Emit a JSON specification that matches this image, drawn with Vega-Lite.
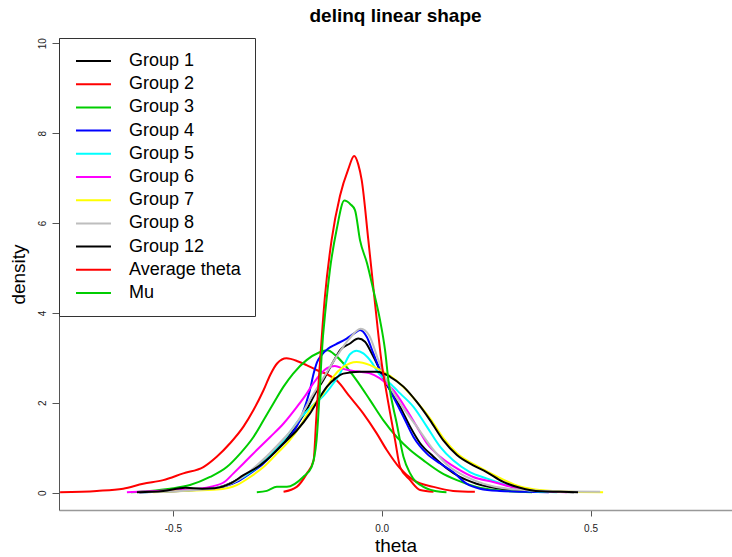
{
  "$schema": "https://vega.github.io/schema/vega-lite/v6.json",
  "width": 673,
  "height": 472,
  "autosize": {"type": "none"},
  "padding": {"left": 59, "top": 38, "right": 0, "bottom": 47},
  "background": "white",
  "title": {"text": "delinq linear shape", "fontSize": 19, "fontWeight": "bold", "font": "Liberation Sans", "color": "black", "offset": 12, "anchor": "middle"},
  "config": {"view": {"stroke": null}},
  "datasets": {
    "curves": [
      {"s": "Group 1", "theta": -0.58, "density": 0.01},
      {"s": "Group 1", "theta": -0.507, "density": 0.03},
      {"s": "Group 1", "theta": -0.443, "density": 0.07},
      {"s": "Group 1", "theta": -0.387, "density": 0.13},
      {"s": "Group 1", "theta": -0.347, "density": 0.28},
      {"s": "Group 1", "theta": -0.315, "density": 0.46},
      {"s": "Group 1", "theta": -0.283, "density": 0.69},
      {"s": "Group 1", "theta": -0.243, "density": 1.02},
      {"s": "Group 1", "theta": -0.212, "density": 1.39},
      {"s": "Group 1", "theta": -0.18, "density": 1.84},
      {"s": "Group 1", "theta": -0.155, "density": 2.28},
      {"s": "Group 1", "theta": -0.14, "density": 2.5},
      {"s": "Group 1", "theta": -0.124, "density": 2.78},
      {"s": "Group 1", "theta": -0.112, "density": 2.98},
      {"s": "Group 1", "theta": -0.1, "density": 3.17},
      {"s": "Group 1", "theta": -0.076, "density": 3.32},
      {"s": "Group 1", "theta": -0.056, "density": 3.43},
      {"s": "Group 1", "theta": -0.04, "density": 3.36},
      {"s": "Group 1", "theta": -0.024, "density": 3.1},
      {"s": "Group 1", "theta": -0.008, "density": 2.8},
      {"s": "Group 1", "theta": 0.004, "density": 2.54},
      {"s": "Group 1", "theta": 0.02, "density": 2.28},
      {"s": "Group 1", "theta": 0.044, "density": 1.91},
      {"s": "Group 1", "theta": 0.068, "density": 1.47},
      {"s": "Group 1", "theta": 0.092, "density": 1.1},
      {"s": "Group 1", "theta": 0.124, "density": 0.8},
      {"s": "Group 1", "theta": 0.156, "density": 0.54},
      {"s": "Group 1", "theta": 0.187, "density": 0.35},
      {"s": "Group 1", "theta": 0.227, "density": 0.2},
      {"s": "Group 1", "theta": 0.283, "density": 0.09},
      {"s": "Group 1", "theta": 0.347, "density": 0.04},
      {"s": "Group 1", "theta": 0.411, "density": 0.02},
      {"s": "Group 1", "theta": 0.46, "density": 0.01},

      {"s": "Group 2", "theta": -0.77, "density": 0.01},
      {"s": "Group 2", "theta": -0.682, "density": 0.04},
      {"s": "Group 2", "theta": -0.619, "density": 0.09},
      {"s": "Group 2", "theta": -0.571, "density": 0.2},
      {"s": "Group 2", "theta": -0.523, "density": 0.28},
      {"s": "Group 2", "theta": -0.475, "density": 0.43},
      {"s": "Group 2", "theta": -0.427, "density": 0.57},
      {"s": "Group 2", "theta": -0.395, "density": 0.8},
      {"s": "Group 2", "theta": -0.363, "density": 1.1},
      {"s": "Group 2", "theta": -0.331, "density": 1.47},
      {"s": "Group 2", "theta": -0.307, "density": 1.84},
      {"s": "Group 2", "theta": -0.283, "density": 2.28},
      {"s": "Group 2", "theta": -0.267, "density": 2.62},
      {"s": "Group 2", "theta": -0.25, "density": 2.88},
      {"s": "Group 2", "theta": -0.228, "density": 2.99},
      {"s": "Group 2", "theta": -0.2, "density": 2.92},
      {"s": "Group 2", "theta": -0.18, "density": 2.84},
      {"s": "Group 2", "theta": -0.156, "density": 2.73},
      {"s": "Group 2", "theta": -0.132, "density": 2.64},
      {"s": "Group 2", "theta": -0.108, "density": 2.5},
      {"s": "Group 2", "theta": -0.076, "density": 2.13},
      {"s": "Group 2", "theta": -0.044, "density": 1.76},
      {"s": "Group 2", "theta": -0.012, "density": 1.32},
      {"s": "Group 2", "theta": 0.012, "density": 0.95},
      {"s": "Group 2", "theta": 0.044, "density": 0.54},
      {"s": "Group 2", "theta": 0.076, "density": 0.28},
      {"s": "Group 2", "theta": 0.124, "density": 0.13},
      {"s": "Group 2", "theta": 0.171, "density": 0.04},
      {"s": "Group 2", "theta": 0.223, "density": 0.02},

      {"s": "Group 3", "theta": -0.6, "density": 0.01},
      {"s": "Group 3", "theta": -0.555, "density": 0.04},
      {"s": "Group 3", "theta": -0.507, "density": 0.09},
      {"s": "Group 3", "theta": -0.459, "density": 0.17},
      {"s": "Group 3", "theta": -0.411, "density": 0.35},
      {"s": "Group 3", "theta": -0.371, "density": 0.57},
      {"s": "Group 3", "theta": -0.339, "density": 0.87},
      {"s": "Group 3", "theta": -0.307, "density": 1.24},
      {"s": "Group 3", "theta": -0.283, "density": 1.61},
      {"s": "Group 3", "theta": -0.259, "density": 1.99},
      {"s": "Group 3", "theta": -0.235, "density": 2.36},
      {"s": "Group 3", "theta": -0.212, "density": 2.65},
      {"s": "Group 3", "theta": -0.18, "density": 2.95},
      {"s": "Group 3", "theta": -0.15, "density": 3.12},
      {"s": "Group 3", "theta": -0.13, "density": 3.17},
      {"s": "Group 3", "theta": -0.11, "density": 3.05},
      {"s": "Group 3", "theta": -0.092, "density": 2.88},
      {"s": "Group 3", "theta": -0.06, "density": 2.5},
      {"s": "Group 3", "theta": -0.028, "density": 2.06},
      {"s": "Group 3", "theta": 0.004, "density": 1.61},
      {"s": "Group 3", "theta": 0.036, "density": 1.24},
      {"s": "Group 3", "theta": 0.068, "density": 0.95},
      {"s": "Group 3", "theta": 0.1, "density": 0.72},
      {"s": "Group 3", "theta": 0.14, "density": 0.46},
      {"s": "Group 3", "theta": 0.18, "density": 0.28},
      {"s": "Group 3", "theta": 0.227, "density": 0.13},
      {"s": "Group 3", "theta": 0.283, "density": 0.05},
      {"s": "Group 3", "theta": 0.331, "density": 0.02},
      {"s": "Group 3", "theta": 0.36, "density": 0.01},

      {"s": "Group 4", "theta": -0.58, "density": 0.01},
      {"s": "Group 4", "theta": -0.483, "density": 0.04},
      {"s": "Group 4", "theta": -0.427, "density": 0.07},
      {"s": "Group 4", "theta": -0.379, "density": 0.13},
      {"s": "Group 4", "theta": -0.347, "density": 0.24},
      {"s": "Group 4", "theta": -0.315, "density": 0.43},
      {"s": "Group 4", "theta": -0.283, "density": 0.65},
      {"s": "Group 4", "theta": -0.251, "density": 0.95},
      {"s": "Group 4", "theta": -0.22, "density": 1.24},
      {"s": "Group 4", "theta": -0.196, "density": 1.61},
      {"s": "Group 4", "theta": -0.184, "density": 1.91},
      {"s": "Group 4", "theta": -0.172, "density": 2.28},
      {"s": "Group 4", "theta": -0.163, "density": 2.65},
      {"s": "Group 4", "theta": -0.155, "density": 2.9},
      {"s": "Group 4", "theta": -0.145, "density": 3.05},
      {"s": "Group 4", "theta": -0.128, "density": 3.21},
      {"s": "Group 4", "theta": -0.11, "density": 3.3},
      {"s": "Group 4", "theta": -0.084, "density": 3.43},
      {"s": "Group 4", "theta": -0.065, "density": 3.55},
      {"s": "Group 4", "theta": -0.052, "density": 3.62},
      {"s": "Group 4", "theta": -0.036, "density": 3.47},
      {"s": "Group 4", "theta": -0.02, "density": 3.1},
      {"s": "Group 4", "theta": -0.004, "density": 2.73},
      {"s": "Group 4", "theta": 0.008, "density": 2.5},
      {"s": "Group 4", "theta": 0.028, "density": 2.13},
      {"s": "Group 4", "theta": 0.052, "density": 1.69},
      {"s": "Group 4", "theta": 0.076, "density": 1.24},
      {"s": "Group 4", "theta": 0.108, "density": 0.87},
      {"s": "Group 4", "theta": 0.14, "density": 0.65},
      {"s": "Group 4", "theta": 0.171, "density": 0.46},
      {"s": "Group 4", "theta": 0.203, "density": 0.2},
      {"s": "Group 4", "theta": 0.235, "density": 0.09},
      {"s": "Group 4", "theta": 0.283, "density": 0.04},
      {"s": "Group 4", "theta": 0.347, "density": 0.02},
      {"s": "Group 4", "theta": 0.4, "density": 0.01},

      {"s": "Group 5", "theta": -0.57, "density": 0.01},
      {"s": "Group 5", "theta": -0.5, "density": 0.04},
      {"s": "Group 5", "theta": -0.4, "density": 0.1},
      {"s": "Group 5", "theta": -0.35, "density": 0.25},
      {"s": "Group 5", "theta": -0.3, "density": 0.55},
      {"s": "Group 5", "theta": -0.25, "density": 1.0},
      {"s": "Group 5", "theta": -0.22, "density": 1.35},
      {"s": "Group 5", "theta": -0.196, "density": 1.65},
      {"s": "Group 5", "theta": -0.164, "density": 1.95},
      {"s": "Group 5", "theta": -0.14, "density": 2.15},
      {"s": "Group 5", "theta": -0.116, "density": 2.43},
      {"s": "Group 5", "theta": -0.1, "density": 2.65},
      {"s": "Group 5", "theta": -0.088, "density": 2.88},
      {"s": "Group 5", "theta": -0.076, "density": 3.08},
      {"s": "Group 5", "theta": -0.06, "density": 3.16},
      {"s": "Group 5", "theta": -0.044, "density": 3.1},
      {"s": "Group 5", "theta": -0.028, "density": 2.95},
      {"s": "Group 5", "theta": -0.004, "density": 2.62},
      {"s": "Group 5", "theta": 0.02, "density": 2.43},
      {"s": "Group 5", "theta": 0.044, "density": 2.21},
      {"s": "Group 5", "theta": 0.076, "density": 1.91},
      {"s": "Group 5", "theta": 0.108, "density": 1.47},
      {"s": "Group 5", "theta": 0.14, "density": 1.02},
      {"s": "Group 5", "theta": 0.171, "density": 0.72},
      {"s": "Group 5", "theta": 0.211, "density": 0.46},
      {"s": "Group 5", "theta": 0.251, "density": 0.32},
      {"s": "Group 5", "theta": 0.299, "density": 0.17},
      {"s": "Group 5", "theta": 0.363, "density": 0.04},
      {"s": "Group 5", "theta": 0.42, "density": 0.01},

      {"s": "Group 6", "theta": -0.61, "density": 0.01},
      {"s": "Group 6", "theta": -0.539, "density": 0.04},
      {"s": "Group 6", "theta": -0.467, "density": 0.07},
      {"s": "Group 6", "theta": -0.411, "density": 0.13},
      {"s": "Group 6", "theta": -0.375, "density": 0.25},
      {"s": "Group 6", "theta": -0.355, "density": 0.43},
      {"s": "Group 6", "theta": -0.331, "density": 0.65},
      {"s": "Group 6", "theta": -0.299, "density": 0.95},
      {"s": "Group 6", "theta": -0.267, "density": 1.24},
      {"s": "Group 6", "theta": -0.235, "density": 1.54},
      {"s": "Group 6", "theta": -0.203, "density": 1.91},
      {"s": "Group 6", "theta": -0.18, "density": 2.2},
      {"s": "Group 6", "theta": -0.164, "density": 2.43},
      {"s": "Group 6", "theta": -0.131, "density": 2.77},
      {"s": "Group 6", "theta": -0.112, "density": 2.82},
      {"s": "Group 6", "theta": -0.09, "density": 2.75},
      {"s": "Group 6", "theta": -0.06, "density": 2.7},
      {"s": "Group 6", "theta": -0.03, "density": 2.66},
      {"s": "Group 6", "theta": -0.005, "density": 2.55},
      {"s": "Group 6", "theta": 0.028, "density": 2.28},
      {"s": "Group 6", "theta": 0.06, "density": 1.84},
      {"s": "Group 6", "theta": 0.084, "density": 1.47},
      {"s": "Group 6", "theta": 0.108, "density": 1.1},
      {"s": "Group 6", "theta": 0.14, "density": 0.8},
      {"s": "Group 6", "theta": 0.18, "density": 0.54},
      {"s": "Group 6", "theta": 0.219, "density": 0.35},
      {"s": "Group 6", "theta": 0.267, "density": 0.24},
      {"s": "Group 6", "theta": 0.331, "density": 0.09},
      {"s": "Group 6", "theta": 0.443, "density": 0.01},

      {"s": "Group 7", "theta": -0.547, "density": 0.01},
      {"s": "Group 7", "theta": -0.475, "density": 0.04},
      {"s": "Group 7", "theta": -0.395, "density": 0.07},
      {"s": "Group 7", "theta": -0.347, "density": 0.17},
      {"s": "Group 7", "theta": -0.315, "density": 0.35},
      {"s": "Group 7", "theta": -0.283, "density": 0.57},
      {"s": "Group 7", "theta": -0.251, "density": 0.87},
      {"s": "Group 7", "theta": -0.22, "density": 1.17},
      {"s": "Group 7", "theta": -0.196, "density": 1.47},
      {"s": "Group 7", "theta": -0.172, "density": 1.84},
      {"s": "Group 7", "theta": -0.14, "density": 2.21},
      {"s": "Group 7", "theta": -0.116, "density": 2.58},
      {"s": "Group 7", "theta": -0.092, "density": 2.8},
      {"s": "Group 7", "theta": -0.06, "density": 2.91},
      {"s": "Group 7", "theta": -0.028, "density": 2.84},
      {"s": "Group 7", "theta": -0.004, "density": 2.73},
      {"s": "Group 7", "theta": 0.02, "density": 2.6},
      {"s": "Group 7", "theta": 0.052, "density": 2.35},
      {"s": "Group 7", "theta": 0.084, "density": 2.02},
      {"s": "Group 7", "theta": 0.116, "density": 1.65},
      {"s": "Group 7", "theta": 0.147, "density": 1.22},
      {"s": "Group 7", "theta": 0.18, "density": 0.88},
      {"s": "Group 7", "theta": 0.219, "density": 0.64},
      {"s": "Group 7", "theta": 0.251, "density": 0.48},
      {"s": "Group 7", "theta": 0.291, "density": 0.29},
      {"s": "Group 7", "theta": 0.331, "density": 0.14},
      {"s": "Group 7", "theta": 0.379, "density": 0.06},
      {"s": "Group 7", "theta": 0.45, "density": 0.02},
      {"s": "Group 7", "theta": 0.53, "density": 0.01},

      {"s": "Group 8", "theta": -0.58, "density": 0.01},
      {"s": "Group 8", "theta": -0.48, "density": 0.04},
      {"s": "Group 8", "theta": -0.4, "density": 0.1},
      {"s": "Group 8", "theta": -0.35, "density": 0.25},
      {"s": "Group 8", "theta": -0.3, "density": 0.6},
      {"s": "Group 8", "theta": -0.25, "density": 1.05},
      {"s": "Group 8", "theta": -0.2, "density": 1.6},
      {"s": "Group 8", "theta": -0.17, "density": 2.1},
      {"s": "Group 8", "theta": -0.14, "density": 2.55},
      {"s": "Group 8", "theta": -0.11, "density": 3.0},
      {"s": "Group 8", "theta": -0.08, "density": 3.4},
      {"s": "Group 8", "theta": -0.05, "density": 3.65},
      {"s": "Group 8", "theta": -0.03, "density": 3.5},
      {"s": "Group 8", "theta": -0.008, "density": 2.95},
      {"s": "Group 8", "theta": 0.012, "density": 2.5},
      {"s": "Group 8", "theta": 0.044, "density": 1.99},
      {"s": "Group 8", "theta": 0.084, "density": 1.47},
      {"s": "Group 8", "theta": 0.124, "density": 0.95},
      {"s": "Group 8", "theta": 0.163, "density": 0.57},
      {"s": "Group 8", "theta": 0.203, "density": 0.35},
      {"s": "Group 8", "theta": 0.243, "density": 0.2},
      {"s": "Group 8", "theta": 0.323, "density": 0.07},
      {"s": "Group 8", "theta": 0.42, "density": 0.03},
      {"s": "Group 8", "theta": 0.523, "density": 0.02},

      {"s": "Group 12", "theta": -0.586, "density": 0.01},
      {"s": "Group 12", "theta": -0.523, "density": 0.04},
      {"s": "Group 12", "theta": -0.47, "density": 0.11},
      {"s": "Group 12", "theta": -0.43, "density": 0.09},
      {"s": "Group 12", "theta": -0.4, "density": 0.1},
      {"s": "Group 12", "theta": -0.363, "density": 0.2},
      {"s": "Group 12", "theta": -0.331, "density": 0.39},
      {"s": "Group 12", "theta": -0.291, "density": 0.61},
      {"s": "Group 12", "theta": -0.267, "density": 0.8},
      {"s": "Group 12", "theta": -0.235, "density": 1.1},
      {"s": "Group 12", "theta": -0.203, "density": 1.39},
      {"s": "Group 12", "theta": -0.172, "density": 1.76},
      {"s": "Group 12", "theta": -0.148, "density": 2.13},
      {"s": "Group 12", "theta": -0.131, "density": 2.36},
      {"s": "Group 12", "theta": -0.11, "density": 2.55},
      {"s": "Group 12", "theta": -0.092, "density": 2.65},
      {"s": "Group 12", "theta": -0.052, "density": 2.69},
      {"s": "Group 12", "theta": -0.012, "density": 2.69},
      {"s": "Group 12", "theta": 0.02, "density": 2.58},
      {"s": "Group 12", "theta": 0.052, "density": 2.36},
      {"s": "Group 12", "theta": 0.084, "density": 2.02},
      {"s": "Group 12", "theta": 0.116, "density": 1.61},
      {"s": "Group 12", "theta": 0.147, "density": 1.17},
      {"s": "Group 12", "theta": 0.18, "density": 0.84},
      {"s": "Group 12", "theta": 0.219, "density": 0.61},
      {"s": "Group 12", "theta": 0.251, "density": 0.46},
      {"s": "Group 12", "theta": 0.291, "density": 0.24},
      {"s": "Group 12", "theta": 0.331, "density": 0.11},
      {"s": "Group 12", "theta": 0.379, "density": 0.03},
      {"s": "Group 12", "theta": 0.427, "density": 0.02},
      {"s": "Group 12", "theta": 0.47, "density": 0.01},

      {"s": "Average theta", "theta": -0.235, "density": 0.02},
      {"s": "Average theta", "theta": -0.2035, "density": 0.13},
      {"s": "Average theta", "theta": -0.179, "density": 0.43},
      {"s": "Average theta", "theta": -0.163, "density": 0.72},
      {"s": "Average theta", "theta": -0.157, "density": 1.6},
      {"s": "Average theta", "theta": -0.15, "density": 2.6},
      {"s": "Average theta", "theta": -0.136, "density": 4.36},
      {"s": "Average theta", "theta": -0.12, "density": 5.62},
      {"s": "Average theta", "theta": -0.1, "density": 6.6},
      {"s": "Average theta", "theta": -0.08, "density": 7.2},
      {"s": "Average theta", "theta": -0.066, "density": 7.49},
      {"s": "Average theta", "theta": -0.056, "density": 7.3},
      {"s": "Average theta", "theta": -0.048, "density": 6.96},
      {"s": "Average theta", "theta": -0.032, "density": 5.62},
      {"s": "Average theta", "theta": -0.016, "density": 4.21},
      {"s": "Average theta", "theta": 0.0, "density": 2.88},
      {"s": "Average theta", "theta": 0.012, "density": 2.2},
      {"s": "Average theta", "theta": 0.032, "density": 1.17},
      {"s": "Average theta", "theta": 0.044, "density": 0.57},
      {"s": "Average theta", "theta": 0.068, "density": 0.28},
      {"s": "Average theta", "theta": 0.092, "density": 0.06},
      {"s": "Average theta", "theta": 0.124, "density": 0.02},

      {"s": "Mu", "theta": -0.299, "density": 0.01},
      {"s": "Mu", "theta": -0.275, "density": 0.04},
      {"s": "Mu", "theta": -0.251, "density": 0.13},
      {"s": "Mu", "theta": -0.227, "density": 0.13},
      {"s": "Mu", "theta": -0.188, "density": 0.35},
      {"s": "Mu", "theta": -0.168, "density": 0.57},
      {"s": "Mu", "theta": -0.156, "density": 1.17},
      {"s": "Mu", "theta": -0.147, "density": 2.5},
      {"s": "Mu", "theta": -0.144, "density": 3.03},
      {"s": "Mu", "theta": -0.133, "density": 4.21},
      {"s": "Mu", "theta": -0.124, "density": 4.96},
      {"s": "Mu", "theta": -0.108, "density": 5.85},
      {"s": "Mu", "theta": -0.0895, "density": 6.5},
      {"s": "Mu", "theta": -0.075, "density": 6.42},
      {"s": "Mu", "theta": -0.064, "density": 6.29},
      {"s": "Mu", "theta": -0.052, "density": 5.62},
      {"s": "Mu", "theta": -0.035, "density": 5.1},
      {"s": "Mu", "theta": -0.02, "density": 4.51},
      {"s": "Mu", "theta": -0.004, "density": 3.84},
      {"s": "Mu", "theta": 0.008, "density": 3.17},
      {"s": "Mu", "theta": 0.016, "density": 2.5},
      {"s": "Mu", "theta": 0.036, "density": 1.54},
      {"s": "Mu", "theta": 0.052, "density": 0.8},
      {"s": "Mu", "theta": 0.068, "density": 0.43},
      {"s": "Mu", "theta": 0.1, "density": 0.13},
      {"s": "Mu", "theta": 0.14, "density": 0.02},
      {"s": "Mu", "theta": 0.155, "density": 0.01}
    ]
  },
  "data": {"name": "curves"},
  "mark": {"type": "line", "strokeWidth": 2, "clip": true, "interpolate": "monotone"},
  "encoding": {
    "x": {
      "field": "theta", "type": "quantitative",
      "scale": {"domain": [-0.7726, 0.8386], "nice": false, "zero": false},
      "axis": {
        "title": "theta", "values": [-0.5, 0, 0.5],
        "labelExpr": "(datum.value < 0 ? '-' : '') + format(abs(datum.value), '.1f')",
        "grid": false, "domainColor": "#999999", "domainWidth": 1.5,
        "tickColor": "#555555", "tickSize": 6, "tickWidth": 1,
        "labelFont": "Liberation Sans", "labelFontSize": 10, "labelColor": "#222222", "labelPadding": 7,
        "titleFont": "Liberation Sans", "titleFontSize": 19, "titleFontWeight": "normal", "titleColor": "black", "titlePadding": 3
      }
    },
    "y": {
      "field": "density", "type": "quantitative",
      "scale": {"domain": [-0.385, 10.118], "nice": false, "zero": false},
      "axis": {
        "title": "density", "values": [0, 2, 4, 6, 8, 10],
        "grid": false, "domainColor": "#555555", "domainWidth": 1,
        "tickColor": "#555555", "tickSize": 7, "tickWidth": 1,
        "labelAngle": -90, "labelAlign": "center", "labelBaseline": "bottom",
        "labelFont": "Liberation Sans", "labelFontSize": 10, "labelColor": "#222222", "labelPadding": 5,
        "titleFont": "Liberation Sans", "titleFontSize": 19, "titleFontWeight": "normal", "titleColor": "black", "titlePadding": 9
      }
    },
    "color": {
      "field": "s", "type": "nominal",
      "sort": ["Group 1", "Group 2", "Group 3", "Group 4", "Group 5", "Group 6", "Group 7", "Group 8", "Group 12", "Average theta", "Mu"],
      "scale": {
        "domain": ["Group 1", "Group 2", "Group 3", "Group 4", "Group 5", "Group 6", "Group 7", "Group 8", "Group 12", "Average theta", "Mu"],
        "range": ["#000000", "#FF0000", "#00CD00", "#0000FF", "#00FFFF", "#FF00FF", "#FFFF00", "#BEBEBE", "#000000", "#FF0000", "#00CD00"]
      },
      "legend": {
        "title": null, "orient": "none", "legendX": 0, "legendY": 0,
        "padding": 14, "strokeColor": "#333333", "fillColor": "white",
        "symbolType": "M-1,0H4.83", "symbolSize": 144, "symbolStrokeWidth": 2,
        "labelFont": "Liberation Sans", "labelFontSize": 18, "labelColor": "black",
        "labelOffset": 38, "rowPadding": 5.2, "labelLimit": 300
      }
    }
  }
}
